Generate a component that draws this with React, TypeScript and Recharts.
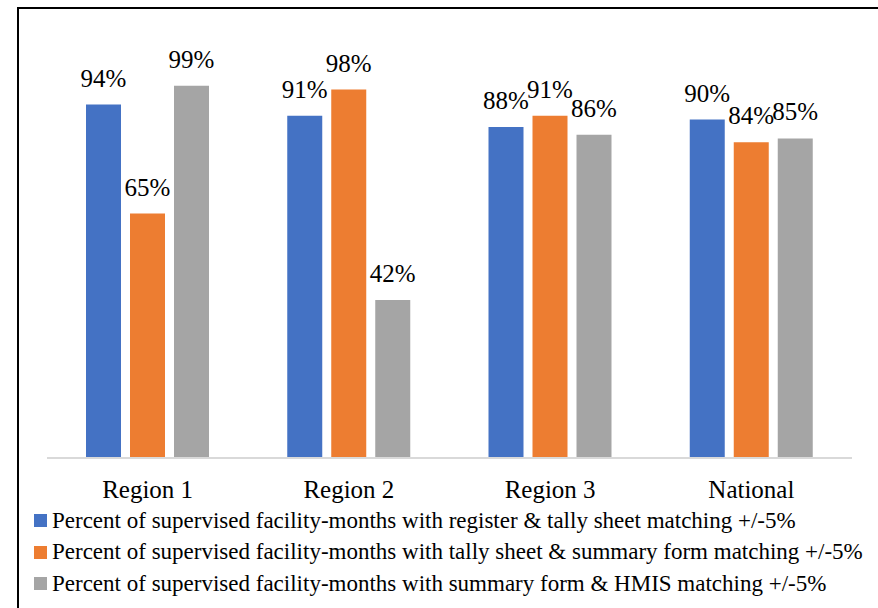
import { Bar, BarChart, LabelList, XAxis, YAxis } from "recharts";

const CATEGORIES = ["Region 1", "Region 2", "Region 3", "National"];
const REGISTER_TALLY = [94, 91, 88, 90];
const TALLY_SUMMARY = [65, 98, 91, 84];
const SUMMARY_HMIS = [99, 42, 86, 85];

const SERIES = [
  {
    key: "registerTally",
    name: "Percent of supervised facility-months with register & tally sheet matching +/-5%",
    color: "#4472C4",
  },
  {
    key: "tallySummary",
    name: "Percent of supervised facility-months with tally sheet & summary form matching +/-5%",
    color: "#ED7D31",
  },
  {
    key: "summaryHmis",
    name: "Percent of supervised facility-months with summary form & HMIS matching +/-5%",
    color: "#A5A5A5",
  },
];

const FONT = '"Liberation Serif", "DejaVu Serif", serif';

const data = CATEGORIES.map((name, i) => ({
  name,
  registerTally: REGISTER_TALLY[i],
  tallySummary: TALLY_SUMMARY[i],
  summaryHmis: SUMMARY_HMIS[i],
}));

export default function App() {
  return (
    <div
      style={{
        position: "fixed",
        left: 0,
        top: 0,
        width: 878,
        height: 608,
        overflow: "hidden",
        background: "#fff",
        fontFamily: FONT,
      }}
    >
      <div
        style={{
          position: "absolute",
          left: 17,
          top: 7,
          width: 900,
          height: 700,
          borderLeft: "2px solid #000",
          borderTop: "2px solid #000",
        }}
      />
      <div style={{ position: "absolute", left: 0, top: 0 }}>
        <BarChart
          width={878}
          height={608}
          data={data}
          margin={{ top: 82, right: 26, left: 47, bottom: 0 }}
          barSize={35}
          barGap={9}
        >
          <XAxis
            dataKey="name"
            height={150}
            tickLine={false}
            tickMargin={16}
            axisLine={{ stroke: "#d9d9d9", strokeWidth: 2 }}
            tick={{ fontSize: 25, fill: "#000", fontFamily: FONT }}
            interval={0}
          />
          <YAxis hide domain={[0, 100]} />
          {SERIES.map((s) => (
            <Bar key={s.key} dataKey={s.key} fill={s.color} isAnimationActive={false}>
              <LabelList
                dataKey={s.key}
                position="top"
                offset={18}
                formatter={(v: number) => `${v}%`}
                fontSize={25}
                fill="#000"
                fontFamily={FONT}
              />
            </Bar>
          ))}
        </BarChart>
      </div>
      <div style={{ position: "absolute", left: 34, top: 505 }}>
        {SERIES.map((s) => (
          <div
            key={s.key}
            style={{
              display: "flex",
              alignItems: "center",
              height: 31.5,
              fontSize: 23,
              color: "#000",
              whiteSpace: "nowrap",
              fontFamily: FONT,
            }}
          >
            <span
              style={{
                display: "inline-block",
                width: 13,
                height: 13,
                background: s.color,
                marginRight: 5,
              }}
            />
            {s.name}
          </div>
        ))}
      </div>
    </div>
  );
}
